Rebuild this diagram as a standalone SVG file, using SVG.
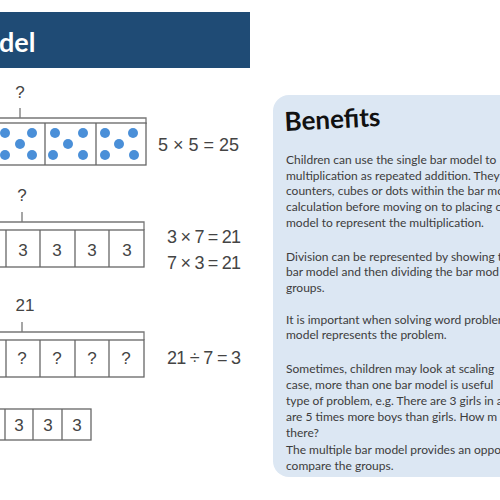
<svg xmlns="http://www.w3.org/2000/svg" width="500" height="500" viewBox="0 0 500 500">
<style>
.cell{fill:#fff;stroke:#666;stroke-width:1.3}
.br{fill:none;stroke:#777;stroke-width:1.3}
.dot{fill:#4a8fd8}
.num{font-family:"Liberation Sans",Arial,sans-serif;font-size:17px;fill:#444;text-anchor:middle}
.eq{font-family:"Liberation Sans",Arial,sans-serif;font-size:18px;fill:#444}
.body{font-family:Lato,"Open Sans",sans-serif;font-size:12px;fill:#3c3c3c}
</style>
<rect width="500" height="500" fill="#fff"/>
<g id="header">
<rect x="0" y="12" width="250" height="56" fill="#1f4b75"/>
<text x="-1" y="52" font-family="Lato,'Open Sans',sans-serif" font-size="27" font-weight="bold" fill="#fff">del</text>
</g>
<g id="bar1">
<text class="num" x="20" y="98">?</text>
<path class="br" d="M20 108V118M-6 118H146V124"/>
<rect class="cell" x="-6" y="123" width="152" height="42"/>
<line class="cell" x1="45" y1="123" x2="45" y2="165"/>
<line class="cell" x1="96" y1="123" x2="96" y2="165"/>
<g class="dot">
<circle cx="5" cy="133" r="5"/><circle cx="32" cy="133" r="5"/><circle cx="20" cy="144" r="5"/><circle cx="5" cy="155" r="5"/><circle cx="32" cy="155" r="5"/>
<circle cx="55" cy="133" r="5"/><circle cx="83" cy="133" r="5"/><circle cx="68" cy="144" r="5"/><circle cx="53" cy="155" r="5"/><circle cx="83" cy="155" r="5"/>
<circle cx="105" cy="133" r="5"/><circle cx="133" cy="133" r="5"/><circle cx="119" cy="144" r="5"/><circle cx="105" cy="155" r="5"/><circle cx="134" cy="155" r="5"/>
</g>
<text class="eq" x="158" y="151">5 × 5 = 25</text>
</g>
<g id="bar2">
<text class="num" x="22" y="201">?</text>
<path class="br" d="M22 212V222M-6 222H144V230"/>
<rect class="cell" x="-30" y="230" width="174" height="37"/>
<line class="cell" x1="6" y1="230" x2="6" y2="267"/>
<line class="cell" x1="40" y1="230" x2="40" y2="267"/>
<line class="cell" x1="75" y1="230" x2="75" y2="267"/>
<line class="cell" x1="109" y1="230" x2="109" y2="267"/>
<text class="num" x="23" y="256">3</text>
<text class="num" x="57" y="256">3</text>
<text class="num" x="92" y="256">3</text>
<text class="num" x="127" y="256">3</text>
<text class="eq" x="167" y="243" textLength="74">3 × 7 = 21</text>
<text class="eq" x="167" y="269" textLength="74">7 × 3 = 21</text>
</g>
<g id="bar3">
<text class="num" x="25" y="311">21</text>
<path class="br" d="M22 322V332M-6 332H144V340"/>
<rect class="cell" x="-30" y="340" width="174" height="37"/>
<line class="cell" x1="6" y1="340" x2="6" y2="377"/>
<line class="cell" x1="40" y1="340" x2="40" y2="377"/>
<line class="cell" x1="75" y1="340" x2="75" y2="377"/>
<line class="cell" x1="109" y1="340" x2="109" y2="377"/>
<text class="num" x="22" y="364">?</text>
<text class="num" x="57" y="364">?</text>
<text class="num" x="92" y="364">?</text>
<text class="num" x="126" y="364">?</text>
<text class="eq" x="167" y="364" textLength="74">21 ÷ 7 = 3</text>
</g>
<g id="bar4">
<rect class="cell" x="-30" y="409" width="121" height="31"/>
<line class="cell" x1="5" y1="409" x2="5" y2="440"/>
<line class="cell" x1="33" y1="409" x2="33" y2="440"/>
<line class="cell" x1="62" y1="409" x2="62" y2="440"/>
<text class="num" x="19" y="431" font-size="15">3</text>
<text class="num" x="48" y="431" font-size="15">3</text>
<text class="num" x="77" y="431" font-size="15">3</text>
</g>
<g id="benefits">
<rect x="273" y="95" width="260" height="382" rx="16" fill="#dce7f3"/>
<text x="285" y="131" transform="rotate(-3 285 131)" font-family="Lato,'Open Sans',sans-serif" font-size="26" font-weight="bold" fill="#111">Benefits</text>
<text class="body" x="286" y="164">Children can use the single bar model to</text>
<text class="body" x="286" y="180">multiplication as repeated addition. They</text>
<text class="body" x="286" y="195">counters, cubes or dots within the bar mo</text>
<text class="body" x="286" y="211">calculation before moving on to placing c</text>
<text class="body" x="286" y="227">model to represent the multiplication.</text>
<text class="body" x="286" y="261">Division can be represented by showing t</text>
<text class="body" x="286" y="276">bar model and then dividing the bar mod</text>
<text class="body" x="286" y="292">groups.</text>
<text class="body" x="286" y="324">It is important when solving word probler</text>
<text class="body" x="286" y="339">model represents the problem.</text>
<text class="body" x="286" y="373">Sometimes, children may look at scaling</text>
<text class="body" x="286" y="389">case, more than one bar model is useful</text>
<text class="body" x="286" y="405">type of problem, e.g. There are 3 girls in a</text>
<text class="body" x="286" y="421">are 5 times more boys than girls. How m</text>
<text class="body" x="286" y="437">there?</text>
<text class="body" x="286" y="454">The multiple bar model provides an oppo</text>
<text class="body" x="286" y="470">compare the groups.</text>
</g>
</svg>
